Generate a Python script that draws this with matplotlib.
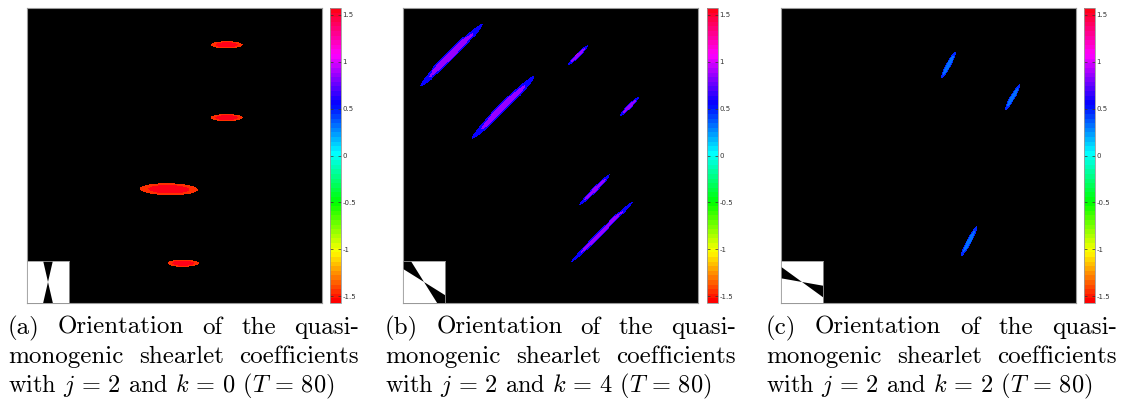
import numpy as np
import matplotlib.pyplot as plt

plt.rcParams['mathtext.fontset'] = 'cm'

W, H = 1123, 403
GRID = 300
VLIM = np.pi / 2

# blobs per panel: centre x, centre y (fraction of panel, y downwards), length, width, angle (deg)
blobs_a = [(0.677, 0.126, 0.110, 0.024, 0), (0.677, 0.372, 0.110, 0.024, 0),
           (0.481, 0.614, 0.197, 0.040, -1), (0.529, 0.864, 0.108, 0.024, 0)]
blobs_b = [(0.163, 0.159, 0.298, 0.030, 45), (0.339, 0.336, 0.298, 0.030, 45),
           (0.593, 0.161, 0.092, 0.015, 45), (0.768, 0.335, 0.088, 0.015, 45),
           (0.650, 0.615, 0.146, 0.017, 45), (0.675, 0.758, 0.292, 0.019, 44.5)]
blobs_c = [(0.568, 0.194, 0.100, 0.017, 62), (0.785, 0.303, 0.101, 0.017, 62),
           (0.637, 0.791, 0.112, 0.017, 62)]
core_vals = [1.55, 0.85, 0.33]
rim_vals = [-1.45, 0.55, 0.45]
wedge_angles = [90, -45, -23]   # shearlet support direction in the inset
panel_labels = ['a', 'b', 'c']
k_vals = [0, 4, 2]
j_val, T_val = 2, 80
cb_ticks = [-1.5, -1, -0.5, 0, 0.5, 1, 1.5]
cb_ticklabels = ['-1.5', '-1', '-0.5', '0', '0.5', '1', '1.5']

# pixel layout
img_left = [27, 403, 781]
cb_left = [330, 707, 1084]
cap_left = [8, 385, 766]
cap_width = 351
top, side = 8, 295


def box(x0, y0, w, h):
    return [x0 / W, (H - y0 - h) / H, w / W, h / H]


def render(blobs, core, rim):
    yy, xx = np.mgrid[0:GRID, 0:GRID]
    xx = (xx + 0.5) / GRID
    yy = (yy + 0.5) / GRID
    img = np.full((GRID, GRID), np.nan)
    for cx, cy, L, Wd, ang in blobs:
        t = np.deg2rad(ang)
        dx, dy = xx - cx, -(yy - cy)
        u = dx * np.cos(t) + dy * np.sin(t)
        v = -dx * np.sin(t) + dy * np.cos(t)
        r = (u / (L / 2)) ** 2 + (v / (Wd / 2)) ** 2
        img[r <= 1] = rim
        img[r <= 0.5] = core
    return np.ma.masked_invalid(img)


cmap = plt.get_cmap('hsv', 64).copy()
cmap.set_bad('black')

fig = plt.figure(figsize=(W / 100, H / 100), dpi=100)
renderer = fig.canvas.get_renderer()

for i, blobs in enumerate([blobs_a, blobs_b, blobs_c]):
    ax = fig.add_axes(box(img_left[i], top, side, side))
    im = ax.imshow(render(blobs, core_vals[i], rim_vals[i]), cmap=cmap,
                   vmin=-VLIM, vmax=VLIM, extent=[0, 1, 1, 0],
                   interpolation='nearest', aspect='auto')
    ax.set_facecolor('black')
    ax.set_xticks([])
    ax.set_yticks([])
    for s in ax.spines.values():
        s.set_color('#999999')
        s.set_linewidth(0.8)

    # inset with the frequency support
    ins = fig.add_axes(box(img_left[i], top + side - 42, 42, 42))
    ins.set_facecolor('white')
    ins.set_xlim(-1, 1)
    ins.set_ylim(-1, 1)
    ins.set_xticks([])
    ins.set_yticks([])
    for s in ins.spines.values():
        s.set_color('#999999')
        s.set_linewidth(0.6)
    half = np.deg2rad(13)
    for a in [np.deg2rad(wedge_angles[i]), np.deg2rad(wedge_angles[i]) + np.pi]:
        ins.fill([0, 3 * np.cos(a - half), 3 * np.cos(a + half)],
                 [0, 3 * np.sin(a - half), 3 * np.sin(a + half)], color='black', lw=0)

    cax = fig.add_axes(box(cb_left[i], top, 11, side))
    cb = fig.colorbar(im, cax=cax, ticks=cb_ticks)
    cb.ax.set_yticklabels(cb_ticklabels)
    cb.outline.set_edgecolor('#999999')
    cb.outline.set_linewidth(0.6)
    cax.tick_params(direction='in', length=2, width=0.5, left=True, right=True,
                    labelsize=5, pad=1, colors='#333333')

    # caption, first two lines justified
    lines = [f"({panel_labels[i]}) Orientation of the quasi-",
             "monogenic shearlet coefficients"]
    for n, line in enumerate(lines):
        y = 334 + 29 * n
        words = line.split()
        texts = [fig.text(0, (H - y) / H, w, fontsize=18, family='cmr10',
                          va='baseline') for w in words]
        widths = [t.get_window_extent(renderer).width for t in texts]
        gap = (cap_width - sum(widths)) / (len(words) - 1)
        x = cap_left[i]
        for t, wd in zip(texts, widths):
            t.set_x(x / W)
            x += wd + gap
    fig.text(cap_left[i] / W, (H - 392) / H,
             f"with $j\\,=\\,{j_val}$ and $k\\,=\\,{k_vals[i]}$ $(T\\,=\\,{T_val})$",
             fontsize=17.5, family='cmr10', va='baseline')

fig.savefig('out.png', dpi=100, facecolor='white')
